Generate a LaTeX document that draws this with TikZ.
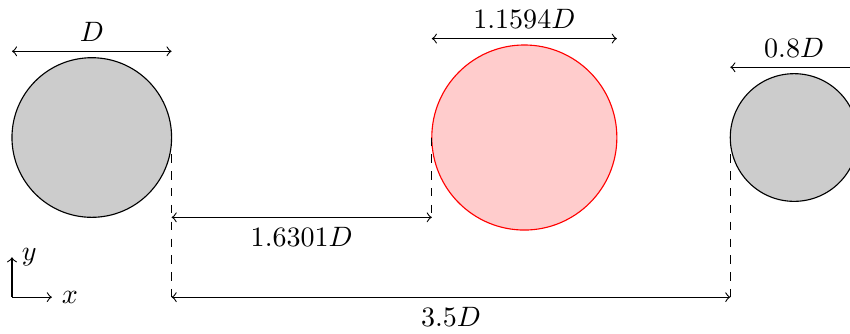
\documentclass[tikz,border=0pt]{standalone}
\usetikzlibrary{calc}
\begin{document}
\begin{tikzpicture}[>=to,
  % Cylinders: gray for the outer ones, red for the middle one
  graydisk/.style={circle, draw, fill=black!20, inner sep=0pt, outer sep=0pt},
  reddisk/.style={circle, draw=red, fill=red!20, inner sep=0pt, outer sep=0pt}
]
  \useasboundingbox (-1.15,-2.45) rectangle (9.5,1.723);

  % Cylinders (D = 2cm)
  \node[graydisk, minimum size=2cm]      (left)  at (0,0)      {};
  \node[reddisk,  minimum size=2.3188cm] (mid)   at (5.4196,0) {};
  \node[graydisk, minimum size=1.6cm]    (right) at (8.8,0)    {};

  % Diameters above each cylinder
  \coordinate (leftA)  at ($(left.west |- left.north)+(0,0.08)$);
  \coordinate (leftB)  at ($(left.east |- left.north)+(0,0.08)$);
  \coordinate (midA)   at ($(mid.west |- mid.north)+(0,0.08)$);
  \coordinate (midB)   at ($(mid.east |- mid.north)+(0,0.08)$);
  \coordinate (rightA) at ($(right.west |- right.north)+(0,0.08)$);
  \coordinate (rightB) at ($(right.east |- right.north)+(0,0.08)$);
  \draw[<->] (leftA)  -- node[above] {$D$}       (leftB);
  \draw[<->] (midA)   -- node[above] {$1.1594D$} (midB);
  \draw[<->] (rightA) -- node[above] {$0.8D$}    (rightB);

  % Dashed guides down from the cylinders
  \coordinate (gapA)  at ($(left.east)+(0,-1)$);
  \coordinate (gapB)  at (mid.west |- gapA);
  \coordinate (spanA) at ($(left.east)+(0,-2)$);
  \coordinate (spanB) at (right.west |- spanA);
  \draw[dashed] (left.east)  -- (spanA);
  \draw[dashed] (mid.west)   -- (gapB);
  \draw[dashed] (right.west) -- (spanB);

  % Spacings
  \draw[<->] (gapA)  -- node[below] {$1.6301D$} (gapB);
  \draw[<->] (spanA) -- node[below] {$3.5D$}    (spanB);

  % Axes
  \coordinate (origin) at (left.west |- spanA);
  \draw[->] (origin) -- ++(0.5,0) node[right] {$x$};
  \draw[->] (origin) -- ++(0,0.5) node[right] {$y$};
\end{tikzpicture}
\end{document}
